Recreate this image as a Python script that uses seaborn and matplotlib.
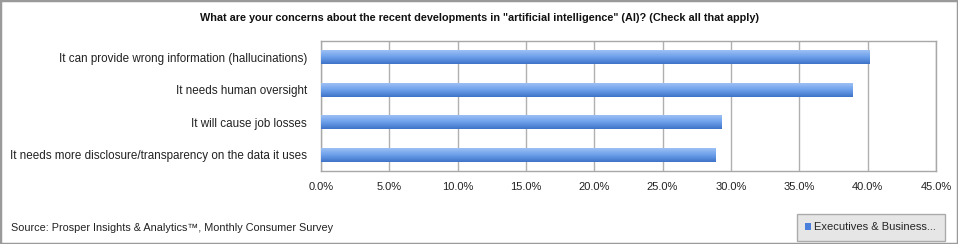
import numpy as np
import pandas as pd
import matplotlib
matplotlib.use("Agg")
import matplotlib.pyplot as plt
from matplotlib.colors import LinearSegmentedColormap
from matplotlib.patches import Rectangle
import seaborn as sns

categories = [
    "It can provide wrong information (hallucinations)",
    "It needs human oversight",
    "It will cause job losses",
    "It needs more disclosure/transparency on the data it uses",
]
values = [40.1, 38.9, 29.3, 28.9]
series = "Executives & Business..."
xticks = [0, 5, 10, 15, 20, 25, 30, 35, 40, 45]
title = 'What are your concerns about the recent developments in "artificial intelligence" (AI)? (Check all that apply)'
source = "Source: Prosper Insights & Analytics\u2122, Monthly Consumer Survey"

df = pd.DataFrame({"concern": categories, "pct": values, "series": series})

sns.set_theme(style="white")
plt.rcParams["font.family"] = ["Liberation Sans", "DejaVu Sans"]

fig = plt.figure(figsize=(9.58, 2.44), dpi=100)
ax = fig.add_axes([0.335, 0.299, 0.977 - 0.335, 0.832 - 0.299])

sns.barplot(data=df, y="concern", x="pct", hue="series", orient="h",
            palette=["#5b8fe0"], width=0.42, ax=ax, legend=True)

# gradient fill on bars (light top, darker bottom)
cmap = LinearSegmentedColormap.from_list("g", ["#9cc0f5", "#6c9fea", "#3e73c8"])
grad = np.linspace(0, 1, 64).reshape(-1, 1)
for p in ax.patches:
    x0, y0 = p.get_x(), p.get_y()
    w, h = p.get_width(), p.get_height()
    im = ax.imshow(grad, cmap=cmap, aspect="auto", origin="upper",
                   extent=[x0, x0 + w, y0 + h, y0], zorder=3)
    im.set_clip_path(p)
    p.set_edgecolor("none")

ax.set_xlim(0, 45)
ax.set_ylim(3.5, -0.5)
ax.set_xticks(xticks)
ax.set_xticklabels([f"{t:.1f}%" for t in xticks], fontsize=8, color="#222222")
ax.tick_params(axis="y", labelsize=8.4, colors="#222222", length=0, pad=10)
ax.tick_params(axis="x", length=0, pad=8)
ax.set_xlabel("")
ax.set_ylabel("")
ax.grid(axis="x", color="#b0b0b0", linewidth=1)
ax.set_axisbelow(True)
for s in ax.spines.values():
    s.set_visible(True)
    s.set_color("#a8a8a8")
    s.set_linewidth(1)

leg = ax.legend(loc="lower right", bbox_to_anchor=(0.986, 0.013), bbox_transform=fig.transFigure,
                frameon=True, fontsize=8, handlelength=0.5, handleheight=0.5,
                handletextpad=0.3, borderpad=0.75, borderaxespad=0, fancybox=False)
leg.get_frame().set_facecolor("#e0e0e0")
leg.get_frame().set_edgecolor("#9a9a9a")
for h in leg.legend_handles:
    h.set_facecolor("#4a80dc")

fig.text(0.5, 0.925, title, ha="center", va="center", fontsize=7.8, fontweight="bold", color="#111111")
fig.text(0.012, 0.065, source, ha="left", va="center", fontsize=7.8, color="#222222")

fig.patches.append(Rectangle((0, 0), 1, 1, transform=fig.transFigure, fill=False,
                             edgecolor="#9a9a9a", linewidth=2.5))

fig.savefig("out.png", dpi=100, facecolor="white")
